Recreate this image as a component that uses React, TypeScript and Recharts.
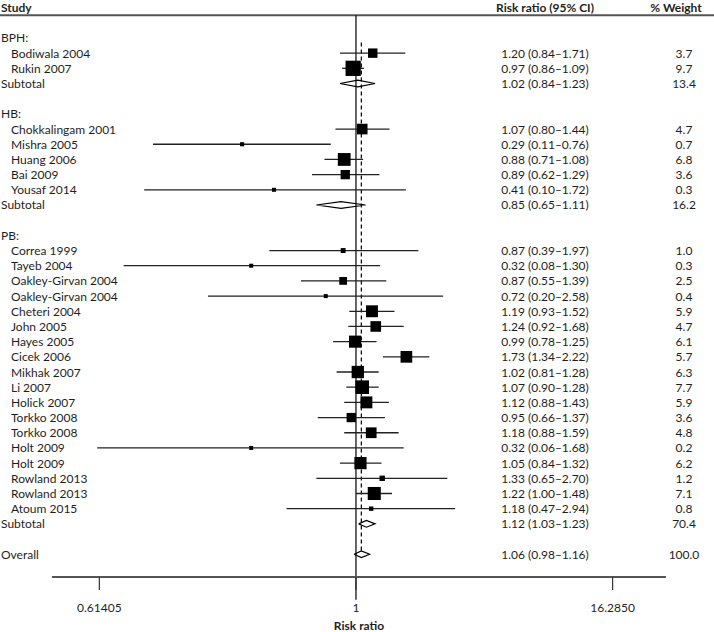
import React from 'react';
import { ScatterChart, Scatter, XAxis, YAxis, ErrorBar, ReferenceLine } from 'recharts';

// ─── Data ─────────────────────────────────────────────────────────────────────

const rowLabels = [
  'BPH:', 'Bodiwala 2004', 'Rukin 2007', 'Subtotal', '',
  'HB:', 'Chokkalingam 2001', 'Mishra 2005', 'Huang 2006', 'Bai 2009', 'Yousaf 2014', 'Subtotal', '',
  'PB:', 'Correa 1999', 'Tayeb 2004', 'Oakley-Girvan 2004', 'Oakley-Girvan 2004', 'Cheteri 2004',
  'John 2005', 'Hayes 2005', 'Cicek 2006', 'Mikhak 2007', 'Li 2007', 'Holick 2007', 'Torkko 2008',
  'Torkko 2008', 'Holt 2009', 'Holt 2009', 'Rowland 2013', 'Rowland 2013', 'Atoum 2015', 'Subtotal', '',
  'Overall',
];

// g = group heading, s = study, t = subtotal, o = overall, '' = blank
const rowKinds = [
  'g', 's', 's', 't', '',
  'g', 's', 's', 's', 's', 's', 't', '',
  'g', 's', 's', 's', 's', 's', 's', 's', 's', 's', 's', 's', 's', 's', 's', 's', 's', 's', 's', 't', '',
  'o',
];

const rowRR = [
  null, 1.20, 0.97, 1.02, null,
  null, 1.07, 0.29, 0.88, 0.89, 0.41, 0.85, null,
  null, 0.87, 0.32, 0.87, 0.72, 1.19, 1.24, 0.99, 1.73, 1.02, 1.07, 1.12, 0.95, 1.18, 0.32, 1.05, 1.33, 1.22, 1.18, 1.12, null,
  1.06,
];

const rowLow = [
  null, 0.84, 0.86, 0.84, null,
  null, 0.80, 0.11, 0.71, 0.62, 0.10, 0.65, null,
  null, 0.39, 0.08, 0.55, 0.20, 0.93, 0.92, 0.78, 1.34, 0.81, 0.90, 0.88, 0.66, 0.88, 0.06, 0.84, 0.65, 1.00, 0.47, 1.03, null,
  0.98,
];

const rowHigh = [
  null, 1.71, 1.09, 1.23, null,
  null, 1.44, 0.76, 1.08, 1.29, 1.72, 1.11, null,
  null, 1.97, 1.30, 1.39, 2.58, 1.52, 1.68, 1.25, 2.22, 1.28, 1.28, 1.43, 1.37, 1.59, 1.68, 1.32, 2.70, 1.48, 2.94, 1.23, null,
  1.16,
];

const rowWeight = [
  null, 3.7, 9.7, 13.4, null,
  null, 4.7, 0.7, 6.8, 3.6, 0.3, 16.2, null,
  null, 1.0, 0.3, 2.5, 0.4, 5.9, 4.7, 6.1, 5.7, 6.3, 7.7, 5.9, 3.6, 4.8, 0.2, 6.2, 1.2, 7.1, 0.8, 70.4, null,
  100.0,
];

const axisTicks = [0.061406, 1, 16.285];
const axisTickLabels = ['0.61405', '1', '16.2850'];

const HEADER_ROW = -2;
const OVERALL_ROW = rowKinds.indexOf('o');

// ─── Styles ───────────────────────────────────────────────────────────────────

const FONT = 'Lato, "Open Sans", sans-serif';
const TEXT = '#1e1e1e';
const RULE = '#555555';

// ─── Derived series ───────────────────────────────────────────────────────────

const studies = rowKinds
  .map((k, i) => ({ k, i }))
  .filter(({ k }) => k === 's')
  .map(({ i }) => ({
    x: rowRR[i] as number,
    y: i,
    err: [(rowRR[i] as number) - (rowLow[i] as number), (rowHigh[i] as number) - (rowRR[i] as number)],
    weight: rowWeight[i] as number,
  }));

const DIAMOND_HALF = 0.22;
const diamonds = rowKinds
  .map((k, i) => ({ k, i }))
  .filter(({ k }) => k === 't' || k === 'o')
  .map(({ i }) => [
    { x: rowLow[i], y: i },
    { x: rowRR[i], y: i - DIAMOND_HALF },
    { x: rowHigh[i], y: i },
    { x: rowRR[i], y: i + DIAMOND_HALF },
    { x: rowLow[i], y: i },
  ]);

// one anchor point per text row, placed on the null line; the shape draws the columns
const textRows = [HEADER_ROW, ...rowLabels.map((_, i) => i)]
  .filter((i) => i === HEADER_ROW || rowKinds[i] !== '')
  .map((i) => ({ x: 1, y: i, row: i }));

// ─── Pieces ───────────────────────────────────────────────────────────────────

function StudySquare(props: any) {
  const { cx, cy, payload } = props;
  const side = Math.max(4, 4.9 * Math.sqrt(payload.weight));
  return <rect x={cx - side / 2} y={cy - side / 2} width={side} height={side} fill="#000" />;
}

function NoDot() {
  return <g />;
}

function RowText(props: any) {
  const { cy, payload } = props;
  const i = payload.row;
  const y = cy;
  const common = { fontFamily: FONT, fontSize: 12, fill: TEXT, dominantBaseline: 'central' as const };
  if (i === HEADER_ROW) {
    return (
      <g>
        <text x={1} y={y} {...common} fontWeight="bold">Study</text>
        <text x={545} y={y} {...common} fontWeight="bold" textAnchor="middle">Risk ratio (95% CI)</text>
        <text x={676} y={y} {...common} fontWeight="bold" textAnchor="middle">% Weight</text>
      </g>
    );
  }
  const kind = rowKinds[i];
  const indent = kind === 's' ? 11 : 1;
  const hasStats = rowRR[i] !== null;
  return (
    <g>
      <text x={indent} y={y} {...common}>{rowLabels[i]}</text>
      {hasStats && (
        <text x={545} y={y} {...common} textAnchor="middle">
          {`${(rowRR[i] as number).toFixed(2)} (${(rowLow[i] as number).toFixed(2)}–${(rowHigh[i] as number).toFixed(2)})`}
        </text>
      )}
      {hasStats && (
        <text x={684} y={y} {...common} textAnchor="middle">
          {(rowWeight[i] as number).toFixed(1)}
        </text>
      )}
    </g>
  );
}

function AxisTick(props: any) {
  const { x, y, payload } = props;
  const idx = axisTicks.indexOf(payload.value);
  return (
    <text x={x} y={y + 11} dy="0.71em" textAnchor="middle" fontFamily={FONT} fontSize={12} fill={TEXT}>
      {axisTickLabels[idx] ?? ''}
    </text>
  );
}

// ─── App ──────────────────────────────────────────────────────────────────────

export default function App() {
  return (
    <div style={{ width: 714, height: 632, background: '#fff' }}>
      <style>{'body{margin:0;}'}</style>
      <ScatterChart width={714} height={632} margin={{ top: 0, right: 48, bottom: 0, left: 52 }}>
        <XAxis
          type="number"
          dataKey="x"
          scale="log"
          domain={[0.0367, 29.1]}
          ticks={axisTicks}
          interval={0}
          height={55}
          tickSize={13}
          tickLine={{ stroke: '#333', strokeWidth: 1.2 }}
          axisLine={{ stroke: RULE, strokeWidth: 2 }}
          tick={<AxisTick />}
          label={{
            value: 'Risk ratio',
            position: 'insideBottom',
            offset: 2,
            style: { fontFamily: FONT, fontSize: 12, fontWeight: 'bold', fill: TEXT },
          }}
        />
        <YAxis type="number" dataKey="y" domain={[-2.5, 35.5]} reversed hide />

        {/* header rule */}
        <ReferenceLine
          segment={[{ x: 0.02, y: -1.5 }, { x: 50, y: -1.5 }]}
          stroke={RULE}
          strokeWidth={2}
          ifOverflow="visible"
        />

        {/* null line */}
        <ReferenceLine
          segment={[{ x: 1, y: -1.5 }, { x: 1, y: 37 }]}
          stroke="#000"
          strokeWidth={1.2}
          ifOverflow="visible"
        />

        {/* overall estimate line */}
        <ReferenceLine
          segment={[{ x: rowRR[OVERALL_ROW] as number, y: 0.3 }, { x: rowRR[OVERALL_ROW] as number, y: 33.8 }]}
          stroke="#000"
          strokeWidth={1.2}
          strokeDasharray="4 3"
          ifOverflow="visible"
        />

        <Scatter data={studies} shape={<StudySquare />} isAnimationActive={false}>
          <ErrorBar dataKey="err" direction="x" width={0} stroke="#222" strokeWidth={1.3} isAnimationActive={false} />
        </Scatter>

        {diamonds.map((pts, k) => (
          <Scatter
            key={k}
            data={pts}
            shape={<NoDot />}
            line={{ stroke: '#000', strokeWidth: 1.2 }}
            lineType="joint"
            fill="none"
            isAnimationActive={false}
          />
        ))}

        <Scatter data={textRows} shape={<RowText />} isAnimationActive={false} />
      </ScatterChart>
    </div>
  );
}
